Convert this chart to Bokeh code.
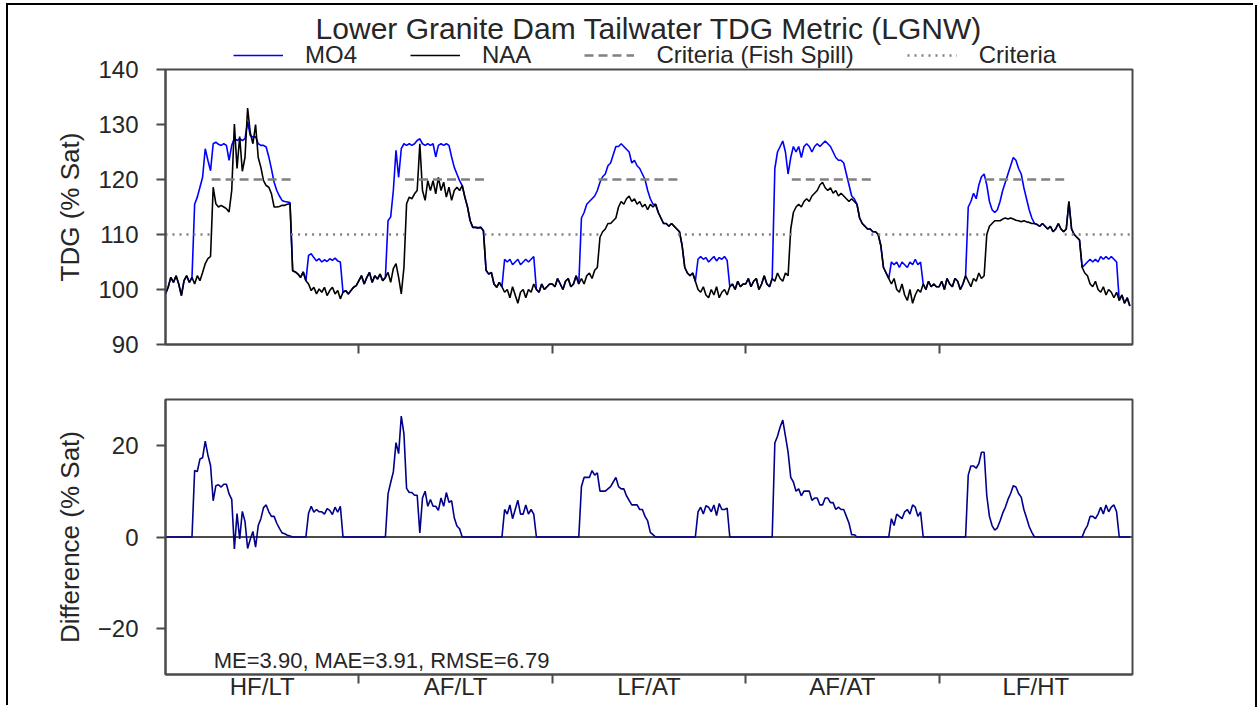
import numpy as np
from bokeh.plotting import figure
from bokeh.models import (FixedTicker, Range1d, Legend, LegendItem, Span, Label,
                          ColumnDataSource, Column)
from bokeh.embed import file_html
from bokeh.resources import INLINE

# ---------------- data (5-day samples, 73 per water year) ----------------
years = ["HF/LT", "AF/LT", "LF/AT", "AF/AT", "LF/HT"]
days_per_year = 365
step_days = 5
spill_start_day = 87
spill_end_day = 237
fish_spill_criteria = 120
criteria = 110

naa_hf_lt = [99.2, 100.4, 102.2, 101.3, 102.5, 101.0, 98.9, 101.6, 102.5, 101.3,
             102.2, 101.0, 102.5, 101.6, 103.1, 104.7, 105.6, 106.0, 118.6, 115.6,
             115.0, 115.3, 115.0, 114.7, 114.1, 118.0, 130.1, 122.0, 127.8, 121.5,
             124.0, 133.0, 128.5, 126.5, 130.0, 124.0, 122.2, 119.8, 118.9, 118.6,
             117.4, 115.0, 115.0, 115.1, 115.3, 115.3, 115.5, 115.6, 103.4, 103.2,
             102.8, 102.2, 103.2, 101.6, 101.0, 99.8, 100.4, 99.2, 100.1, 99.5,
             100.4, 98.9, 99.8, 100.4, 99.2, 99.8, 98.3, 99.5, 99.8, 99.2,
             99.8, 100.4, 100.7]
mo4_hf_lt = [99.2, 100.4, 102.2, 101.3, 102.5, 101.0, 98.9, 101.6, 102.5, 101.3,
             102.2, 115.5, 116.8, 118.6, 120.4, 125.6, 123.5, 121.6, 126.5, 126.8,
             126.4, 126.2, 126.5, 126.2, 123.5, 126.2, 127.5, 127.1, 127.4, 127.1,
             127.4, 130.5, 128.0, 127.7, 127.8, 126.5, 126.2, 126.2, 125.9, 124.1,
             121.9, 119.5, 118.0, 117.0, 116.2, 116.0, 115.9, 115.8, 103.4, 103.2,
             102.8, 102.2, 103.2, 101.6, 106.2, 106.5, 105.8, 105.2, 105.6, 105.0,
             105.4, 105.1, 105.6, 105.3, 105.7, 105.2, 105.0, 99.5, 99.8, 99.2,
             99.8, 100.4, 100.7]

naa_af_lt = [101.6, 102.5, 101.0, 102.2, 103.1, 101.3, 102.5, 101.9, 102.8, 101.6,
             102.2, 103.1, 101.3, 103.8, 104.7, 102.2, 99.2, 104.0, 115.6, 116.8,
             116.5, 117.4, 118.0, 126.5, 118.0, 116.2, 119.8, 118.0, 119.8, 117.4,
             120.4, 118.0, 119.5, 116.8, 118.6, 116.2, 118.0, 118.6, 118.0, 118.9,
             116.8, 115.0, 112.5, 111.3, 111.3, 111.2, 111.3, 110.7, 103.5, 102.8,
             103.1, 101.0, 100.4, 101.3, 100.5, 99.5, 100.0, 98.5, 100.5, 99.0,
             97.5, 99.5, 100.0, 98.5, 100.0, 99.5, 101.0, 100.0, 99.5, 101.0,
             100.0, 100.5, 101.0]
mo4_af_lt = [101.6, 102.5, 101.0, 102.2, 103.1, 101.3, 102.5, 101.9, 102.8, 101.6,
             102.2, 112.5, 113.2, 118.0, 125.3, 120.4, 125.6, 126.5, 126.2, 126.5,
             126.2, 126.5, 127.1, 127.4, 126.5, 126.2, 126.5, 126.2, 126.5, 124.1,
             126.2, 126.5, 126.2, 126.5, 126.2, 124.1, 122.2, 121.0, 119.8, 118.9,
             116.8, 115.0, 112.5, 111.3, 111.3, 111.2, 111.3, 110.7, 103.5, 102.8,
             103.1, 101.0, 100.4, 101.3, 100.5, 105.5, 105.0, 105.5, 104.5, 105.0,
             105.5, 104.5, 105.0, 105.5, 105.0, 105.5, 106.0, 100.0, 99.5, 101.0,
             100.0, 100.5, 101.0]

naa_lf_at = [101.0, 100.5, 102.0, 101.0, 100.0, 101.5, 102.0, 100.5, 101.0, 102.5,
             101.0, 102.0, 101.0, 102.5, 103.0, 102.0, 103.5, 104.0, 109.5, 110.5,
             111.0, 112.0, 112.0, 112.5, 113.0, 115.0, 116.0, 115.5, 116.5, 117.0,
             116.0, 116.5, 115.5, 116.0, 115.0, 115.5, 114.5, 115.5, 115.0, 115.5,
             114.0, 113.0, 112.0, 112.0, 111.5, 112.0, 111.5, 111.0, 110.5, 108.0,
             104.0, 103.0, 102.5, 103.0, 101.5, 100.0, 99.5, 100.5, 99.0, 98.5,
             100.0, 99.0, 100.5, 98.5, 99.5, 100.0, 99.0, 100.5, 101.0, 100.0,
             101.5, 100.5, 101.0]
mo4_lf_at = [101.0, 100.5, 102.0, 101.0, 100.0, 101.5, 102.0, 100.5, 101.0, 102.5,
             101.0, 113.0, 114.0, 115.5, 116.0, 116.5, 117.0, 118.0, 119.5, 120.5,
             121.0, 122.5, 123.0, 124.5, 126.0, 126.0, 126.5, 126.0, 125.5, 125.0,
             123.0, 123.5, 122.5, 122.0, 121.0, 120.0, 118.0, 116.5, 115.5, 115.5,
             114.0, 113.0, 112.0, 112.0, 111.5, 112.0, 111.5, 111.0, 110.5, 108.0,
             104.0, 103.0, 102.5, 103.0, 101.5, 105.5, 106.0, 105.5, 105.8, 105.0,
             105.5, 106.0, 105.2, 105.8, 105.5, 106.0, 105.3, 100.5, 101.0, 100.0,
             101.5, 100.5, 101.0]

naa_af_at = [101.0, 102.0, 100.5, 101.5, 102.0, 100.0, 101.0, 102.5, 101.0, 100.5,
             102.0, 101.5, 103.0, 102.0, 101.5, 103.0, 102.5, 111.0, 114.0, 115.0,
             115.5, 115.0, 116.0, 116.5, 116.0, 117.0, 117.5, 118.0, 119.0, 119.5,
             118.5, 118.0, 118.5, 117.5, 118.0, 117.0, 117.5, 117.0, 116.5, 116.0,
             116.5, 116.0, 115.5, 113.0, 112.0, 111.5, 111.0, 111.0, 110.5, 110.5,
             110.0, 108.0, 104.0, 103.0, 102.0, 101.0, 102.0, 100.0, 99.5, 101.0,
             99.0, 98.0, 100.0, 97.5, 99.0, 100.0, 99.5, 101.0, 100.0, 101.5,
             100.5, 101.0, 100.5]
mo4_af_at = [101.0, 102.0, 100.5, 101.5, 102.0, 100.0, 101.0, 102.5, 101.0, 100.5,
             102.0, 122.0, 125.0, 126.0, 127.0, 125.0, 121.0, 124.0, 126.0, 125.0,
             126.0, 124.0, 126.0, 126.5, 126.0, 125.0, 126.0, 126.5, 126.0, 126.5,
             127.0, 126.5, 126.0, 125.0, 124.0, 123.5, 123.5, 123.0, 121.0, 119.0,
             117.0, 116.5, 115.5, 113.0, 112.0, 111.5, 111.0, 111.0, 110.5, 110.5,
             110.0, 108.0, 104.0, 103.0, 102.0, 105.0, 104.5, 105.0, 104.0, 105.0,
             104.5, 104.0, 105.0, 104.5, 105.5, 104.5, 105.0, 101.0, 100.0, 101.5,
             100.5, 101.0, 100.5]

naa_lf_ht = [100.5, 101.5, 100.0, 102.0, 101.0, 100.5, 102.0, 101.5, 100.0, 101.0,
             102.5, 101.5, 100.5, 102.0, 101.5, 103.0, 102.0, 102.5, 110.0, 111.5,
             112.0, 112.5, 112.5, 112.5, 112.8, 113.0, 112.8, 113.0, 112.8, 112.6,
             112.5, 112.3, 112.5, 112.3, 112.2, 112.0, 112.0, 111.8, 111.5, 112.0,
             111.5, 111.0, 111.5, 110.5, 111.0, 112.0, 111.0, 110.5, 111.0, 116.0,
             111.0, 110.0, 109.5, 109.0, 104.0, 103.0, 102.5, 101.0, 100.5, 101.5,
             100.0, 99.5, 100.5, 99.0, 100.0, 99.5, 98.5, 99.5, 98.0, 99.0,
             97.5, 98.5, 97.0]
mo4_lf_ht = [100.5, 101.5, 100.0, 102.0, 101.0, 100.5, 102.0, 101.5, 100.0, 101.0,
             102.5, 115.0, 116.0, 117.5, 116.5, 119.0, 120.5, 121.0, 119.0, 116.0,
             114.5, 114.0, 114.5, 116.0, 118.0, 119.5, 121.0, 122.5, 124.0, 123.5,
             122.0, 121.0, 118.5, 116.5, 114.5, 113.0, 112.0, 111.8, 111.5, 112.0,
             111.5, 111.0, 111.5, 110.5, 111.0, 112.0, 111.0, 110.5, 111.0, 116.0,
             111.0, 110.0, 109.5, 109.0, 104.0, 104.5, 105.0, 105.5, 105.0, 105.5,
             105.0, 106.0, 105.5, 106.0, 105.5, 106.0, 105.5, 105.0, 98.0, 99.0,
             97.5, 98.5, 97.0]

title_text = "Lower Granite Dam Tailwater TDG Metric (LGNW)"
stats_text = "ME=3.90, MAE=3.91, RMSE=6.79"

# ---------------- derived series ----------------
mo4 = np.concatenate([mo4_hf_lt, mo4_af_lt, mo4_lf_at, mo4_af_at, mo4_lf_ht])
naa = np.concatenate([naa_hf_lt, naa_af_lt, naa_lf_at, naa_af_at, naa_lf_ht])
n_per = len(mo4_hf_lt)
x = np.concatenate([k * days_per_year + step_days * np.arange(n_per) for k in range(len(years))])
diff = mo4 - naa
src = ColumnDataSource(dict(x=x, mo4=mo4, naa=naa, diff=diff))

total_days = days_per_year * len(years)
boundaries = [days_per_year * k for k in range(1, len(years))]
centers = [days_per_year * (k + 0.5) for k in range(len(years))]

fs_xs = [[k * days_per_year + spill_start_day, k * days_per_year + spill_end_day] for k in range(len(years))]
fs_ys = [[fish_spill_criteria, fish_spill_criteria] for _ in years]
cr_xs = [[0, spill_start_day]] + [[k * days_per_year + spill_end_day,
          min((k + 1) * days_per_year + spill_start_day, total_days)] for k in range(len(years))]
cr_ys = [[criteria, criteria] for _ in cr_xs]

# ---------------- styling ----------------
FONT = "Liberation Sans"
TXT = "#262626"
SPINE = "#4a4a4a"
W = 1247
FL = 157
FW = 967
FH = 275
BLUE = "#0000ff"
GRAY = "#808080"
FS_DASH = "9 5"
CR_DASH = "2 5"


def style_common(p):
    p.xgrid.grid_line_color = None
    p.ygrid.grid_line_color = None
    p.outline_line_color = SPINE
    p.outline_line_width = 2
    p.background_fill_color = "white"
    for ax in (p.xaxis[0], p.yaxis[0]):
        ax.axis_line_color = SPINE
        ax.axis_line_width = 2
        ax.major_tick_line_color = SPINE
        ax.major_tick_line_width = 2
        ax.minor_tick_line_color = SPINE
        ax.minor_tick_line_width = 2
        ax.major_label_text_font = FONT
        ax.major_label_text_color = TXT
        ax.axis_label_text_font = FONT
        ax.axis_label_text_color = TXT
        ax.axis_label_text_font_style = "normal"
    p.yaxis[0].major_tick_out = 9
    p.yaxis[0].major_tick_in = 0
    p.yaxis[0].minor_tick_out = 0
    p.yaxis[0].minor_tick_in = 0
    p.yaxis[0].major_label_text_font_size = "24px"
    p.yaxis[0].major_label_standoff = 18
    p.yaxis[0].axis_label_text_font_size = "26px"
    p.yaxis[0].axis_label_standoff = 10


# ---------------- header (title + legend) ----------------
p0 = figure(width=W, height=64, x_range=Range1d(0, 1), y_range=Range1d(0, 1),
            x_axis_location=None, y_axis_location=None, title=None,
            output_backend="svg", toolbar_location=None, min_border=0)
p0.outline_line_color = None
p0.grid.visible = False
g_mo4 = p0.line([np.nan], [np.nan], line_color=BLUE, line_width=1.6)
g_naa = p0.line([np.nan], [np.nan], line_color="#000000", line_width=1.6)
g_fs = p0.line([np.nan], [np.nan], line_color=GRAY, line_width=2.4, line_dash=FS_DASH)
g_cr = p0.line([np.nan], [np.nan], line_color=GRAY, line_width=2.4, line_dash=CR_DASH)
legend = Legend(items=[LegendItem(label="MO4", renderers=[g_mo4]),
                       LegendItem(label="NAA", renderers=[g_naa]),
                       LegendItem(label="Criteria (Fish Spill)", renderers=[g_fs]),
                       LegendItem(label="Criteria", renderers=[g_cr])],
                orientation="horizontal", location=(68, 0),
                glyph_width=50, glyph_height=20, label_standoff=22, spacing=53,
                padding=0, margin=0, border_line_alpha=0, background_fill_alpha=0,
                label_text_font=FONT, label_text_font_size="24px", label_text_color=TXT)
p0.add_layout(legend)
p0.add_layout(Label(x=FW / 2, y=41, x_units="screen", y_units="screen", text=title_text,
                    text_font=FONT, text_font_size="30px", text_color=TXT,
                    text_align="center", text_baseline="alphabetic"))

# ---------------- top panel ----------------
p1 = figure(width=W, height=305, x_range=Range1d(0, total_days), y_range=Range1d(90, 140),
            output_backend="svg", toolbar_location=None, title=None,
            min_border_left=FL, min_border_right=W - FL - FW, min_border_top=14, min_border_bottom=16,
            styles={"margin-top": "-14px"})
style_common(p1)
p1.border_fill_alpha = 0

p1.line("x", "mo4", source=src, line_color=BLUE, line_width=1.6)
p1.line("x", "naa", source=src, line_color="#000000", line_width=1.6)
p1.multi_line(fs_xs, fs_ys, line_color=GRAY, line_width=2.4, line_dash=FS_DASH)
p1.multi_line(cr_xs, cr_ys, line_color=GRAY, line_width=2.4, line_dash=CR_DASH)

p1.yaxis[0].ticker = FixedTicker(ticks=[90, 100, 110, 120, 130, 140])
p1.yaxis[0].axis_label = "TDG (% Sat)"
p1.xaxis[0].ticker = FixedTicker(ticks=[], minor_ticks=boundaries)
p1.xaxis[0].major_tick_out = 0
p1.xaxis[0].major_tick_in = 0
p1.xaxis[0].minor_tick_out = 9
p1.xaxis[0].minor_tick_in = 0

# ---------------- bottom panel ----------------
p2 = figure(width=W, height=347, x_range=p1.x_range, y_range=Range1d(-30, 30),
            output_backend="svg", toolbar_location=None, title=None,
            min_border_left=FL, min_border_right=W - FL - FW, min_border_top=39, min_border_bottom=33)
style_common(p2)
p2.border_fill_color = "white"
p2.add_layout(Span(location=0, dimension="width", line_color=SPINE, line_width=1.8, level="underlay"))
p2.line("x", "diff", source=src, line_color="#00008b", line_width=1.6)
p2.yaxis[0].ticker = FixedTicker(ticks=[-20, 0, 20])
p2.yaxis[0].major_label_overrides = {-20: "\u221220"}
p2.yaxis[0].axis_label = "Difference (% Sat)"
p2.xaxis[0].ticker = FixedTicker(ticks=centers, minor_ticks=boundaries)
p2.xaxis[0].major_label_overrides = {c: lab for c, lab in zip(centers, years)}
p2.xaxis[0].major_tick_out = 0
p2.xaxis[0].major_tick_in = 0
p2.xaxis[0].minor_tick_out = 9
p2.xaxis[0].minor_tick_in = 0
p2.xaxis[0].major_label_text_font_size = "24px"
p2.xaxis[0].major_label_standoff = -11

p2.add_layout(Label(x=91, y=-27, text=stats_text, text_font=FONT, text_font_size="22px",
                    text_color=TXT, text_baseline="alphabetic"))

layout = Column(children=[p0, p1, p2], spacing=0,
                styles={"margin-left": "8px", "margin-top": "5px",
                        "box-shadow": "-2px -2px 0 0 #000, 2px 0 0 0 #000"})

open("out.html", "w").write(file_html(layout, INLINE))
